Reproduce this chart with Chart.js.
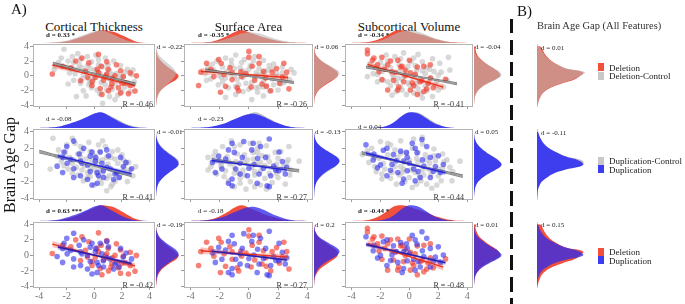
<!DOCTYPE html>
<html>
<head>
<meta charset="utf-8">
<script src="https://cdn.jsdelivr.net/npm/chart.js@4.4.1/dist/chart.umd.min.js"></script>
<style>
  body { margin: 0; background: #fff; font-family: "Liberation Serif", "DejaVu Serif", serif; }
  #wrap { position: relative; width: 685px; height: 304px; overflow: hidden; background: #fff; }
  #wrap canvas, #wrap .t, #wrap .sw { position: absolute; }
  .t { white-space: nowrap; line-height: 1; color: #111; }
</style>
</head>
<body>
<div id="wrap"></div>
<script>
var grid = [-4, -3.5, -3, -2.5, -2, -1.5, -1, -0.5, 0, 0.5, 1, 1.5, 2, 2.5, 3, 3.5, 4];
var xTicks = [-4, -2, 0, 2, 4];
var yTicks = [-4, -2, 0, 2, 4];
var titles = ['Cortical Thickness', 'Surface Area', 'Subcortical Volume'];
var dTop = [['d = 0.33 *', 'd = -0.35 *', 'd = -0.34 *'], ['d = -0.08', 'd = -0.23', 'd = 0.04'], ['d = 0.63 ***', 'd = -0.18', 'd = -0.44 *']];
var dRight = [['d = -0.22', 'd = 0.06', 'd = -0.04'], ['d = -0.01', 'd = -0.13', 'd = 0.05'], ['d = -0.19', 'd = 0.2', 'd = 0.01']];
var rVals = [['R = -0.46', 'R = -0.26', 'R = -0.41'], ['R = -0.41', 'R = -0.27', 'R = -0.44'], ['R = -0.42', 'R = -0.27', 'R = -0.48']];
var dBag = ['d = 0.01', 'd = -0.11', 'd = 0.15'];
var legends = [['Deletion', 'Deletion-Control'], ['Duplication-Control', 'Duplication'], ['Deletion', 'Duplication']];

// scatter points [x, brain age gap]
var ctCtrlDel = [[-2.2,3.6],[-1.6,2.6],[-1.2,3.0],[-2.6,1.8],[-2.0,1.2],[-1.5,1.8],[-1.0,2.2],[-0.5,2.6],[-0.2,1.9],[0.3,2.2],[0.8,2.4],[1.4,2.0],[1.9,1.4],[2.4,0.9],[2.7,0.2],[-1.8,0.4],[-1.2,0.9],[-0.8,0.2],[-0.3,1.0],[0.2,0.6],[0.6,1.2],[1.1,0.7],[1.6,0.3],[2.1,-0.2],[2.9,-0.8],[-1.5,-0.6],[-1.0,-1.0],[-0.4,-0.4],[0.1,-0.2],[0.5,-0.9],[1.0,-0.3],[1.5,-1.1],[2.2,-1.5],[-0.8,-2.0],[-0.2,-1.6],[0.4,-2.4],[0.9,-1.9],[1.7,-2.6],[0.6,-3.7],[1.5,-3.2],[-1.3,-2.8],[2.6,-2.1],[-0.1,0.1],[0.9,0.2],[-0.6,0.6],[0.4,0.3],[0.7,-0.2],[-0.3,-0.9],[1.2,-0.6],[0.3,1.5],[-1.1,1.5],[1.8,-0.5],[-0.6,-2.7],[2.2,0.5],
  [-2.4,2.4],[-1.9,2.0],[-1.4,0.3],[-0.9,1.1],[-0.5,1.4],[0.0,0.8],[0.5,0.0],[1.3,0.2],[1.9,-0.1],[2.4,-0.9],[-0.9,-0.4],[-0.1,-0.6],[0.8,-1.2],[1.3,-1.8],[2.0,-2.1],[-0.4,-1.2],[0.2,-1.9],[1.1,-2.8],[-1.9,-1.1],[2.8,0.8],[-2.9,0.9],[0.1,2.8],[1.0,1.5],[-1.6,1.0]];
var ctDel = [[-3.05,0.25],[0.3,2.9],[-0.4,1.75],[0.9,1.9],[1.6,1.5],[1.9,0.7],[2.6,0.4],[3.05,0],[2.95,-2.05],[0.67,-0.6],[1.27,-1.05],[0.43,-1.7],[1.03,-2.0],[1.75,-1.6],[2.23,-0.95],[0.07,-0.2],[-0.65,0.65],[-1.0,-0.65],[-1.7,1.1],[-1.35,2.0],[1.5,0],[0.9,0.2],[0.2,0.9],[0.55,-2.5],[-0.17,-1.3],[2.47,-2.4],[1.0,0.9],[1.3,-0.3],[2.6,-1.3],[-0.15,-0.75],[1.9,-2.3],[0.3,0.45],
  [-2.3,1.3],[-0.9,2.4],[0.5,1.3],[2.1,-0.1],[1.2,-1.5],[-0.5,-0.2],[0.8,-0.1],[2.0,-1.0]];
var ctCtrlDup = [[-3.0,3.2],[-3.2,-0.5],[-2.6,1.8],[-2.0,2.4],[-1.6,3.2],[-1.0,2.2],[-0.4,2.7],[0.3,2.4],[0.8,2.2],[1.3,1.6],[2.0,1.2],[2.5,0.3],[2.8,-1.3],[-2.4,0.4],[-1.8,0.9],[-1.2,1.3],[-0.6,0.7],[0.0,1.1],[0.6,0.6],[1.2,0.9],[1.7,0.2],[2.2,-0.4],[-1.9,-0.5],[-1.3,-0.3],[-0.7,-0.1],[0.1,0.2],[0.7,-0.3],[1.3,-0.6],[1.9,-1.1],[-1.2,-1.2],[-0.5,-0.9],[0.2,-1.1],[0.9,-1.6],[1.5,-2.0],[-0.8,-1.9],[0.0,-2.4],[0.9,-3.1],[0.5,-2.2],[2.4,-2.0],[-0.2,0.5],[-0.9,1.7],[0.4,1.6],[1.0,0.1],[-0.3,-0.4],[0.4,-0.6],[-1.6,0.2],[1.6,-0.9],[2.1,0.6],[-0.5,-1.5],[1.2,-2.6],
  [-2.7,1.0],[-2.1,1.5],[-1.5,0.6],[-1.0,0.9],[-0.3,1.6],[0.3,0.5],[0.9,0.9],[1.5,0.7],[2.3,0.2],[-1.6,-1.0],[-0.9,-0.6],[0.0,-0.5],[0.6,-1.0],[1.1,-1.3],[1.8,-1.5],[-0.3,-1.4],[0.4,-1.7],[1.3,-2.3],[2.6,-0.6],[-2.2,-0.1],[0.6,2.9],[-1.4,2.6],[1.7,1.8],[3.0,-0.2]];
var ctDup = [[-1.5,2.85],[-2.2,1.55],[-2.7,-0.15],[-2.3,-0.9],[-1.7,0.65],[-1.1,1.3],[-0.77,2.0],[-0.17,1.55],[-0.5,0],[-1.0,-1.3],[-0.5,-1.75],[-0.17,-2.4],[0.2,-0.9],[0.55,0.2],[1.03,1.1],[1.15,-0.45],[1.63,-0.9],[2.1,-0.2],[2.7,-0.45],[0.67,-1.5],[0.2,-2.2],[-1.97,0.2],[-1.5,-0.45],[0.43,1.55],[1.4,-1.75],[0.07,0.45],[-2.3,0.9],[0.9,1.8],[1.9,0.9],[-1.0,0.45],[1.5,-1.1],[-1.5,-1.5],[0.65,-0.7],[-0.3,1.05],
  [-2.0,2.2],[-0.9,0.2],[0.1,0.9],[0.9,-0.3],[-0.3,-0.8],[1.8,-1.5],[0.3,-1.3],[2.3,0.3]];
var saCtrlDel = [[-2.8,1.2],[-2.2,2.0],[-1.6,2.4],[-0.9,2.8],[-0.3,2.2],[0.4,2.6],[1.0,2.1],[1.7,1.6],[2.3,1.2],[3.1,0.4],[2.8,-0.5],[-3.0,0.3],[-2.4,0.8],[-1.8,1.2],[-1.2,1.5],[-0.6,1.1],[0.1,1.4],[0.7,1.0],[1.3,0.8],[1.9,0.3],[2.5,-0.2],[-2.6,-0.4],[-1.9,-0.2],[-1.3,0.3],[-0.8,-0.5],[-0.2,0.2],[0.4,-0.3],[1.0,-0.7],[1.6,-0.4],[2.2,-1.1],[-2.1,-1.2],[-1.4,-1.6],[-0.7,-1.2],[0.0,-1.8],[0.7,-1.5],[1.4,-2.0],[-0.9,-2.5],[0.2,-3.2],[1.0,-2.7],[-1.6,-2.9],[2.0,-1.9],[0.5,0.4],[-0.4,0.7],[0.9,0.3],[-1.0,0.0],[0.2,-0.9],[1.2,-1.3],[-0.5,1.8],[1.6,0.9],[-1.8,-0.8],
  [-2.5,1.6],[-2.0,0.1],[-1.5,0.6],[-1.0,1.0],[-0.4,-0.2],[0.0,0.9],[0.6,0.1],[1.1,0.5],[1.8,-0.1],[2.3,0.4],[-1.6,-0.3],[-0.9,-1.4],[-0.2,-1.0],[0.5,-1.6],[1.0,-1.5],[1.7,-1.2],[2.4,-0.9],[-0.4,-2.1],[0.6,-2.2],[-1.2,2.1],[0.3,2.0],[1.4,1.4],[-2.9,-0.6],[2.9,0.9]];
var saDel = [[-3.45,-1.3],[-2.9,1.7],[-1.9,1.7],[-2.4,-0.1],[-1.6,-1.4],[-1.15,-0.5],[-0.55,0.55],[0,2.5],[0.7,1.7],[1.15,-0.3],[1.6,0.5],[2.4,1.7],[2.1,-1],[2.6,0.5],[-0.8,-1.6],[0.15,-1.5],[-0.5,-0.1],[-3.3,0.5],[-2.07,2.2],[-1.15,0.45],[-1.95,-2.2],[0,3.3],[0.7,2.6],[0.23,1.3],[2.3,-0.2],[2.75,-1.75],[0.9,-1.1],[-0.7,-2.0],[1.5,-2.0],
  [-2.6,0.9],[-1.3,1.1],[-0.2,0.3],[1.0,0.6],[1.9,1.0],[0.4,-0.6],[-1.7,0.2],[1.2,-1.4]];
var saCtrlDup = [[-2.8,0.9],[-2.3,1.6],[-1.8,2.2],[-1.2,2.9],[-0.6,2.4],[0.1,2.6],[0.6,2.0],[1.2,2.3],[1.8,1.5],[2.75,2.2],[3.45,0.45],[2.9,-0.6],[-2.6,-0.2],[-2.0,0.5],[-1.5,1.0],[-0.9,0.4],[-0.3,1.2],[0.3,0.7],[0.9,1.1],[1.4,0.4],[2.0,0.8],[2.4,-0.2],[-2.2,-1.1],[-1.6,-0.7],[-1.0,-0.3],[-0.4,-0.6],[0.2,-0.3],[0.8,-0.7],[1.4,-1.0],[2.0,-1.5],[-1.4,-1.9],[-0.6,-1.6],[0.1,-2.0],[0.8,-2.4],[1.6,-2.1],[-0.2,-2.9],[-1.0,-2.6],[2.5,-2.3],[0.5,0.2],[-0.1,0.6],[-1.3,0.1],[0.6,1.5],[1.1,-0.1],[-0.7,-1.0],[0.4,-1.2],[1.8,-0.4],[-1.9,0.0],[2.6,0.3],
  [-2.4,1.1],[-1.9,-0.2],[-1.4,0.5],[-0.8,1.3],[-0.3,0.3],[0.3,1.5],[0.8,0.3],[1.3,1.0],[1.9,0.1],[2.7,0.6],[-1.7,-1.4],[-1.0,-1.0],[-0.3,-1.2],[0.4,-0.8],[1.1,-1.6],[1.9,-1.0],[2.8,-1.2],[-0.6,-2.2],[0.4,-2.6],[1.2,-2.9],[-1.0,2.2],[0.7,2.6],[2.2,1.6],[-2.8,-0.6]];
var saDup = [[-1.15,2.6],[-1.0,1.5],[-0.35,2.8],[0.2,1.8],[0.8,2.2],[-0.45,0.9],[0.35,0.05],[1.15,0.9],[1.7,-0.15],[-0.9,-0.5],[-0.1,-1.3],[0.7,-1.1],[1.5,-1.3],[2.05,-0.7],[2.5,-1.1],[1.25,-2.5],[-1.15,-2.5],[2.6,-0.3],[-2.07,1.05],[-2.5,0.3],[-1.4,1.8],[-1.85,-0.5],[-1.15,-1.7],[1.4,3.1],[2.07,1.55],[1.85,-0.65],[1.4,-2.6],[0.57,-2.2],[-2.3,-0.9],[-1.4,-2.2],
  [-0.6,0.2],[0.6,0.8],[1.0,-0.4],[-1.6,0.7],[0.0,-0.4],[2.3,0.4],[-0.6,-1.1],[0.3,2.6]];
var svCtrlDel = [[-2.9,-0.1],[-2.4,1.2],[-2.0,1.8],[-1.6,2.8],[-1.0,2.6],[-0.4,3.1],[0.3,2.4],[0.9,1.9],[1.6,2.3],[2.7,2.5],[2.8,0.8],[2.2,0.5],[-2.5,0.3],[-1.9,0.6],[-1.3,1.1],[-0.7,0.6],[-0.1,1.3],[0.5,0.8],[1.1,0.3],[1.7,0.6],[-1.8,-0.6],[-1.1,-0.2],[-0.5,-0.4],[0.2,-0.2],[0.8,-0.5],[1.3,-1.0],[1.9,-0.7],[2.35,-1.5],[-1.3,-1.3],[-0.6,-1.5],[0.0,-1.2],[0.6,-1.7],[1.2,-2.0],[1.6,-2.8],[-0.2,-2.5],[0.9,-3.0],[-0.9,-2.1],[2.0,-1.9],[0.4,0.1],[-0.3,0.2],[-1.5,2.0],[0.1,1.9],[1.2,1.1],[-0.9,-0.9],[0.5,-1.0],[1.5,-0.3],[-2.2,-0.8],[0.3,-2.3],
  [-2.7,1.6],[-2.2,0.2],[-1.7,1.3],[-1.2,0.3],[-0.7,1.5],[-0.2,0.7],[0.4,1.4],[0.9,0.7],[1.4,0.9],[2.0,0.1],[2.6,-0.6],[-1.5,-0.8],[-0.8,-0.3],[-0.1,-0.9],[0.6,-0.6],[1.1,-1.4],[1.8,-1.3],[-0.5,-1.9],[0.3,-1.4],[0.8,-2.4],[-1.2,-2.6],[0.6,2.9],[-0.6,2.3],[2.1,1.7]];
var svDel = [[-2.9,3.5],[-2.9,3.0],[-2.55,2.1],[-1.9,2.5],[-1.5,1.5],[-0.8,2.1],[-1.2,0.55],[-0.6,1.2],[0.07,0.4],[0.55,1.2],[-0.4,-0.8],[0.2,-0.95],[0.75,-0.8],[1.45,-0.3],[-1.5,-1.9],[-0.8,-1.9],[0.07,-1.9],[1.0,-2.1],[1.65,-1.6],[0.55,-2.5],[-2.1,0.55],[0,2.1],[1.45,1.5],[-2.45,2.4],[-1.3,2.0],[-0.5,1.3],[-0.97,0.45],[-0.28,0],[0.87,-0.65],[-0.74,-1.5],[1.2,-1.75],[2.5,-0.45],[1.0,1.3],
  [-2.2,1.5],[-1.7,0.9],[-0.3,0.8],[0.4,0.2],[-1.1,-0.6],[0.3,-1.3],[1.3,-1.0],[-1.9,-0.5]];
var svCtrlDup = [[-3.25,1.25],[-2.6,2.0],[-2.0,2.8],[-1.3,2.4],[-0.6,2.9],[0.3,3.1],[0.9,2.5],[1.7,1.9],[2.3,1.3],[3.5,0.45],[2.8,-0.3],[-2.8,0.3],[-2.1,0.8],[-1.5,1.2],[-0.8,0.9],[-0.2,1.4],[0.5,0.8],[1.1,1.2],[1.8,0.5],[2.3,-0.4],[-2.3,-0.8],[-1.7,-0.5],[-1.0,-0.2],[-0.4,-0.5],[0.3,-0.1],[0.9,-0.6],[1.5,-1.1],[2.0,-1.3],[2.95,-1.9],[-1.3,-1.6],[-0.7,-1.2],[0.0,-1.5],[0.8,-1.9],[1.55,-2.8],[0.2,-2.7],[-0.9,-2.3],[1.2,-2.3],[-1.9,-1.7],[0.6,0.3],[-0.3,0.3],[-1.0,1.8],[0.2,2.0],[1.4,0.2],[-0.6,-0.2],[0.4,-0.9],[1.0,-1.2],[2.6,0.6],[-2.4,-0.2],
  [-2.9,1.7],[-2.4,0.9],[-1.8,0.2],[-1.2,0.6],[-0.6,1.4],[0.0,0.6],[0.6,1.5],[1.2,0.6],[1.7,1.1],[2.4,0.4],[3.0,-0.8],[-1.9,-1.1],[-1.2,-0.9],[-0.5,-0.9],[0.1,-0.6],[0.7,-1.3],[1.3,-0.5],[2.2,-1.9],[-0.3,-2.0],[0.5,-2.3],[1.9,-2.4],[-1.5,2.6],[0.9,3.3],[2.0,-0.5]];
var svDup = [[-3.0,2.4],[-2.2,-0.35],[-1.55,2.0],[-1.1,1.25],[-0.6,1.65],[-1.2,0.05],[-0.4,0.45],[0.2,2.6],[0.53,1.45],[1.0,-0.15],[0.3,-0.5],[-0.4,-1.7],[0.4,-1.9],[1.45,0.9],[1.65,-0.75],[2.35,0.05],[-1.55,-1.3],[1.2,2.2],[-0.15,-0.7],[-2.45,1.3],[-1.8,1.75],[-0.15,0.9],[0.4,2.0],[2.0,1.1],[0.75,-1.5],[1.45,-1.5],[2.15,-0.9],[-1.3,-0.65],[-2.0,0],[-0.5,-2.2],[0.87,3.05],
  [-2.5,0.6],[-0.9,0.5],[0.0,0.2],[0.9,0.6],[-0.8,-0.9],[0.6,-0.8],[1.8,-0.2],[-0.2,1.5]];

// fitted lines [x0, y0, x1, y1, ci at ends, ci at middle]
var ctDelFit = [-3.05, 1.45, 2.95, -1.35, 0.4, 0.14];
var ctDupFit = [-2.65, 1.08, 2.7, -1.05, 0.32, 0.1];
var ctCtrlDelFit = [-3.0, 1.7, 3.0, -1.1, 0.15, 0.06];
var ctCtrlDupFit = [-4.0, 1.6, 2.7, -1.25, 0.17, 0.06];
var saDelFit = [-3.3, 0.6, 2.7, -0.22, 0.45, 0.15];
var saDupFit = [-2.55, 0.55, 2.6, -0.6, 0.32, 0.1];
var saCtrlDelFit = [-3.0, 0.8, 3.1, -0.9, 0.15, 0.06];
var saCtrlDupFit = [-2.55, 0.6, 3.45, -0.7, 0.16, 0.06];
var svDelFit = [-2.9, 1.55, 2.35, -1.52, 0.42, 0.15];
var svDupFit = [-3.0, 1.4, 2.5, -0.95, 0.3, 0.1];
var svCtrlDelFit = [-3.0, 1.2, 3.3, -1.07, 0.15, 0.06];
var svCtrlDupFit = [-3.3, 1.45, 3.7, -1.35, 0.16, 0.06];

// marginal densities on grid (top: x, right: brain age gap)
var ctCtrlDelX = [0,.02,.05,.1,.2,.35,.55,.75,.92,.98,.85,.6,.35,.15,.05,.01,0];
var ctDelX = [0,0,.02,.06,.14,.28,.45,.65,.85,1,.95,.85,.6,.35,.12,.02,0];
var ctCtrlDupX = [0,.01,.04,.1,.2,.32,.48,.65,.85,.98,.85,.62,.4,.2,.08,.02,0];
var ctDupX = [0,.01,.04,.1,.22,.36,.52,.72,.92,1,.8,.55,.32,.15,.05,.01,0];
var saCtrlDelX = [0,.01,.03,.08,.18,.35,.55,.75,.85,.8,.65,.45,.28,.15,.06,.02,0];
var saDelX = [0,.01,.04,.12,.3,.55,.85,1,.85,.65,.45,.3,.18,.08,.03,.01,0];
var saCtrlDupX = [0,.01,.03,.08,.16,.28,.45,.68,.9,1,.8,.55,.32,.15,.06,.02,0];
var saDupX = [0,.01,.04,.1,.2,.35,.55,.75,.88,.88,.72,.5,.3,.14,.05,.01,0];
var svCtrlDelX = [0,.01,.03,.08,.2,.42,.7,.9,1,.92,.72,.5,.3,.15,.06,.02,0];
var svDelX = [0,.01,.05,.15,.35,.65,.95,1,.9,.75,.6,.42,.25,.12,.05,.01,0];
var svCtrlDupX = [0,0,0,.01,.04,.13,.35,.68,.95,1,.8,.5,.24,.08,.02,0,0];
var svDupX = [0,0,0,.01,.05,.16,.42,.78,1,.95,.72,.42,.2,.07,.02,0,0];
var ctCtrlDelY = [.01,.03,.06,.12,.22,.38,.55,.72,.85,.88,.78,.6,.4,.22,.1,.04,.01];
var ctDelY = [.01,.02,.05,.1,.2,.38,.62,.9,1,.85,.62,.4,.22,.1,.04,.01,0];
var ctCtrlDupY = [0,.01,.03,.07,.15,.3,.5,.75,.95,1,.8,.55,.32,.15,.06,.02,0];
var ctDupY = [0,.01,.03,.07,.16,.32,.55,.8,1,.95,.75,.5,.28,.13,.05,.01,0];
var saCtrlDelY = [0,.01,.03,.07,.15,.3,.5,.75,.95,1,.82,.55,.3,.14,.05,.02,0];
var saDelY = [0,.01,.03,.08,.17,.33,.55,.78,.93,.92,.75,.52,.3,.15,.06,.02,0];
var saCtrlDupY = [0,.01,.02,.05,.12,.25,.45,.7,.9,1,.85,.6,.35,.16,.06,.02,0];
var saDupY = [0,.01,.02,.05,.11,.22,.4,.65,.9,1,.88,.62,.36,.16,.06,.02,0];
var svCtrlDelY = [0,.01,.03,.07,.15,.3,.52,.8,1,.95,.75,.5,.3,.15,.06,.02,0];
var svDelY = [0,.01,.02,.06,.14,.28,.5,.78,.95,.9,.72,.5,.32,.18,.1,.06,.03];
var svCtrlDupY = [0,.01,.02,.06,.14,.3,.55,.82,1,.92,.7,.46,.27,.12,.05,.01,0];
var svDupY = [0,.01,.03,.07,.16,.32,.56,.83,1,.9,.68,.45,.26,.12,.04,.01,0];

// brain age gap, all features
var bagDelCtrl = [.01,.03,.06,.1,.17,.3,.5,.75,.9,1,.62,.43,.29,.2,.14,.1,.05];
var bagDel = [.01,.03,.06,.1,.18,.32,.53,.78,.9,.96,.6,.43,.3,.22,.16,.12,.07];
var bagDupCtrl = [0,.01,.02,.05,.1,.2,.34,.62,.95,.95,.62,.42,.25,.14,.08,.04,.01];
var bagDup = [0,.01,.02,.05,.1,.21,.36,.64,.96,.88,.6,.41,.25,.15,.09,.05,.02];

var colX = [[33, 155], [184, 313], [345, 473]];
var rowY = [[44, 107], [129, 200], [222, 288]];
var topMargY = [30, 112, 205];
var rightMargW = [23, 26, 28];
var rEdge = [153, 307, 464];
var xMin = -4.45, xMax = 4.4, yMin = -4.2, yMax = 4.3;

var GREY = 'rgba(190,190,190,0.6)', RED = 'rgba(240,60,45,0.65)', BLUE = 'rgba(45,45,235,0.6)';

Chart.defaults.font.family = '"Liberation Serif", "DejaVu Serif", serif';
Chart.defaults.animation = false;
Chart.defaults.responsive = false;
Chart.defaults.events = [];
Chart.defaults.plugins.legend.display = false;
Chart.defaults.plugins.tooltip.enabled = false;

var wrap = document.getElementById('wrap');

function addCanvas(l, t, w, h) {
  var c = document.createElement('canvas');
  c.width = w; c.height = h;
  c.style.left = l + 'px'; c.style.top = t + 'px';
  c.style.width = w + 'px'; c.style.height = h + 'px';
  wrap.appendChild(c);
  return c;
}

function label(txt, x, y, size, o) {
  o = o || {};
  var d = document.createElement('div');
  d.className = 't';
  d.textContent = txt;
  d.style.fontSize = size + 'px';
  d.style.left = x + 'px';
  d.style.top = y + 'px';
  if (o.bold) d.style.fontWeight = 'bold';
  if (o.color) d.style.color = o.color;
  var tx = o.align == 'center' ? '-50%' : (o.align == 'right' ? '-100%' : '0');
  d.style.transform = 'translate(' + tx + ',-50%)' + (o.rot ? ' rotate(-90deg)' : '');
  wrap.appendChild(d);
}

function box(l, t, w, h, css) {
  var d = document.createElement('div');
  d.className = 'sw';
  d.style.left = l + 'px'; d.style.top = t + 'px';
  d.style.width = w + 'px'; d.style.height = h + 'px';
  for (var k in css) d.style[k] = css[k];
  wrap.appendChild(d);
}

var boxPlugin = {
  id: 'panelBox',
  beforeDatasetsDraw: function(chart) {
    var a = chart.chartArea, ctx = chart.ctx;
    ctx.save();
    ctx.strokeStyle = '#b4b4b4';
    ctx.lineWidth = 1;
    ctx.strokeRect(a.left + 0.5, a.top + 0.5, a.right - a.left - 1, a.bottom - a.top - 1);
    ctx.restore();
  }
};

function toPts(arr, color) {
  return {
    data: arr.map(function(p) { return {x: p[0], y: p[1]}; }),
    showLine: false, pointRadius: 2.8, pointBorderWidth: 0,
    pointBackgroundColor: color, backgroundColor: color
  };
}

function fitSets(f, lineColor, bandFill, edgeColor, lw) {
  var xm = (f[0] + f[2]) / 2, ym = (f[1] + f[3]) / 2;
  var ew = edgeColor ? 0.7 : 0;
  return [
    {data: [{x: f[0], y: f[1]}, {x: f[2], y: f[3]}], borderColor: lineColor, borderWidth: lw, pointRadius: 0, fill: false},
    {data: [{x: f[0], y: f[1] + f[4]}, {x: xm, y: ym + f[5]}, {x: f[2], y: f[3] + f[4]}],
      borderColor: edgeColor || 'transparent', borderWidth: ew, backgroundColor: bandFill, fill: '+1', pointRadius: 0, tension: 0.4},
    {data: [{x: f[0], y: f[1] - f[4]}, {x: xm, y: ym - f[5]}, {x: f[2], y: f[3] - f[4]}],
      borderColor: edgeColor || 'transparent', borderWidth: ew, fill: false, pointRadius: 0, tension: 0.4}
  ];
}

function ctrlFit(f) { return fitSets(f, '#9a9a9a', 'rgba(120,120,120,0.5)', 'rgba(40,40,40,0.75)', 1); }
function delFit(f) { return fitSets(f, '#e8321e', 'rgba(240,80,60,0.35)', null, 1.4); }
function dupFit(f, dark) { return fitSets(f, dark ? '#2a1ea8' : '#2424d8', 'rgba(60,60,240,0.35)', null, 1.4); }

function scatterPanel(c, r, sets) {
  var L = colX[c][0], R = colX[c][1], T = rowY[r][0], B = rowY[r][1];
  var P = 8, yW = c === 0 ? 16 : 3, xH = r === 2 ? 12 : 3;
  var cv = addCanvas(L - yW - P, T - P, R - L + yW + 2 * P, B - T + xH + 2 * P);
  new Chart(cv, {
    type: 'line',
    data: {datasets: sets},
    plugins: [boxPlugin],
    options: {
      layout: {padding: P},
      scales: {
        x: {
          type: 'linear', min: xMin, max: xMax,
          afterBuildTicks: function(s) { s.ticks = xTicks.map(function(v) { return {value: v}; }); },
          afterFit: function(s) { s.height = xH; },
          grid: {drawOnChartArea: false, tickLength: 2, color: '#999'},
          border: {display: false},
          ticks: {display: r === 2, padding: 0, autoSkip: false, maxRotation: 0, color: '#777', font: {size: 10}}
        },
        y: {
          type: 'linear', min: yMin, max: yMax,
          afterBuildTicks: function(s) { s.ticks = yTicks.map(function(v) { return {value: v}; }); },
          afterFit: function(s) { s.width = yW; },
          grid: {drawOnChartArea: false, tickLength: 3, color: '#999'},
          border: {display: false},
          ticks: {display: c === 0, padding: 1, autoSkip: false, color: '#777', font: {size: 10}}
        }
      }
    }
  });
}

function densSet(arr, color, vertical) {
  return {
    data: grid.map(function(g, i) { return vertical ? {x: arr[i], y: g} : {x: g, y: arr[i]}; }),
    backgroundColor: color, borderWidth: 0, pointRadius: 0, fill: 'origin', tension: 0.4
  };
}

function densChart(l, t, w, h, vertical, sets) {
  var cv = addCanvas(l, t, w, h);
  var sx = vertical ? {type: 'linear', display: false, min: 0, max: 1.02} : {type: 'linear', display: false, min: xMin, max: xMax};
  var sy = vertical ? {type: 'linear', display: false, min: yMin, max: yMax} : {type: 'linear', display: false, min: 0, max: 1.02};
  new Chart(cv, {
    type: 'line',
    data: {datasets: sets.map(function(s) { return densSet(s[0], s[1], vertical); })},
    options: {indexAxis: vertical ? 'y' : 'x', layout: {padding: 0}, scales: {x: sx, y: sy}}
  });
}

var ctrlDelPts = [ctCtrlDel, saCtrlDel, svCtrlDel], delPts = [ctDel, saDel, svDel];
var ctrlDupPts = [ctCtrlDup, saCtrlDup, svCtrlDup], dupPts = [ctDup, saDup, svDup];
var ctrlDelFits = [ctCtrlDelFit, saCtrlDelFit, svCtrlDelFit], delFits = [ctDelFit, saDelFit, svDelFit];
var ctrlDupFits = [ctCtrlDupFit, saCtrlDupFit, svCtrlDupFit], dupFits = [ctDupFit, saDupFit, svDupFit];
var ctrlDelX = [ctCtrlDelX, saCtrlDelX, svCtrlDelX], delX = [ctDelX, saDelX, svDelX];
var ctrlDupX = [ctCtrlDupX, saCtrlDupX, svCtrlDupX], dupX = [ctDupX, saDupX, svDupX];
var ctrlDelY = [ctCtrlDelY, saCtrlDelY, svCtrlDelY], delY = [ctDelY, saDelY, svDelY];
var ctrlDupY = [ctCtrlDupY, saCtrlDupY, svCtrlDupY], dupY = [ctDupY, saDupY, svDupY];

var F_GREY = 'rgba(185,185,185,0.6)', F_GREY_S = 'rgb(190,190,190)', F_RED = 'rgb(240,80,60)';
var F_BLUE = 'rgba(55,55,240,0.95)', F_BLUE_T = 'rgba(50,45,235,0.78)';

for (var c = 0; c < 3; c++) {
  var L = colX[c][0], R = colX[c][1];
  label(titles[c], (L + R) / 2, 25.5, 13, {align: 'center'});
  for (var r = 0; r < 3; r++) {
    var T = rowY[r][0], B = rowY[r][1];
    var sets, topSets, rightSets;
    if (r === 0) {
      sets = [].concat(ctrlFit(ctrlDelFits[c]), delFit(delFits[c]), [toPts(delPts[c], RED), toPts(ctrlDelPts[c], GREY)]);
      topSets = [[ctrlDelX[c], F_GREY], [delX[c], F_RED]];
      rightSets = [[ctrlDelY[c], F_GREY], [delY[c], F_RED]];
    } else if (r === 1) {
      sets = [].concat(dupFit(dupFits[c]), ctrlFit(ctrlDupFits[c]), [toPts(dupPts[c], BLUE), toPts(ctrlDupPts[c], GREY)]);
      topSets = [[dupX[c], F_BLUE], [ctrlDupX[c], F_GREY_S]];
      rightSets = [[dupY[c], F_BLUE], [ctrlDupY[c], F_GREY_S]];
    } else {
      sets = [].concat(dupFit(dupFits[c], true), delFit(delFits[c]), [toPts(dupPts[c], BLUE), toPts(delPts[c], RED)]);
      topSets = [[dupX[c], F_BLUE_T], [delX[c], F_RED]];
      rightSets = [[dupY[c], F_BLUE_T], [delY[c], F_RED]];
    }
    scatterPanel(c, r, sets);
    densChart(L, topMargY[r], R - L, T - 1 - topMargY[r], false, topSets);
    densChart(R + 1, T, rightMargW[c], B - T, true, rightSets);

    var bold = dTop[r][c].indexOf('*') >= 0;
    label(dTop[r][c], c === 0 ? 46 : (c === 1 ? 198 : 358), [35, 118.5, 211][r] + (r === 1 && c === 2 ? 8.5 : 0), 7, {bold: bold, color: '#222'});
    label(dRight[r][c], R + 2, [47, 132, 224.5][r], 7, {color: '#222'});
    label(rVals[r][c], rEdge[c], B - 2.5, 8, {align: 'right', color: '#333'});
  }
}

// panel B
var bagSets = [
  [[bagDelCtrl, F_GREY], [bagDel, F_RED]],
  [[bagDup, F_BLUE], [bagDupCtrl, F_GREY_S]],
  [[bagDup, F_BLUE_T], [bagDel, F_RED]]
];
var swatch = [['rgb(240,80,60)', 'rgb(200,200,200)'], ['rgb(200,200,200)', 'rgb(60,60,240)'], ['rgb(240,80,60)', 'rgb(60,60,240)']];
var legY = [63, 156.5, 247.5];
for (var r2 = 0; r2 < 3; r2++) {
  var T2 = rowY[r2][0], B2 = rowY[r2][1];
  box(537, T2, 1, B2 - T2, {background: '#d0d0d0'});
  densChart(537, T2, 49, B2 - T2, true, bagSets[r2]);
  label(dBag[r2], 541, [47.5, 132.5, 225][r2], 7, {color: '#222'});
  box(598, legY[r2], 5.5, 8, {background: swatch[r2][0]});
  box(598, legY[r2] + 8.5, 5.5, 8, {background: swatch[r2][1]});
  label(legends[r2][0], 609, legY[r2] + 4.5, 9, {color: '#222'});
  label(legends[r2][1], 609, legY[r2] + 13, 9, {color: '#222'});
}

label('A)', 11, 9, 15);
label('B)', 517, 10.5, 15);
label('Brain Age Gap (All Features)', 537, 26, 10.5, {color: '#333'});
label('Brain Age Gap', 10, 165, 16, {align: 'center', rot: true});
box(510, 19, 3, 285, {background: 'repeating-linear-gradient(to bottom, #111 0px, #111 14.5px, transparent 14.5px, transparent 21.5px)'});
</script>
</body>
</html>
